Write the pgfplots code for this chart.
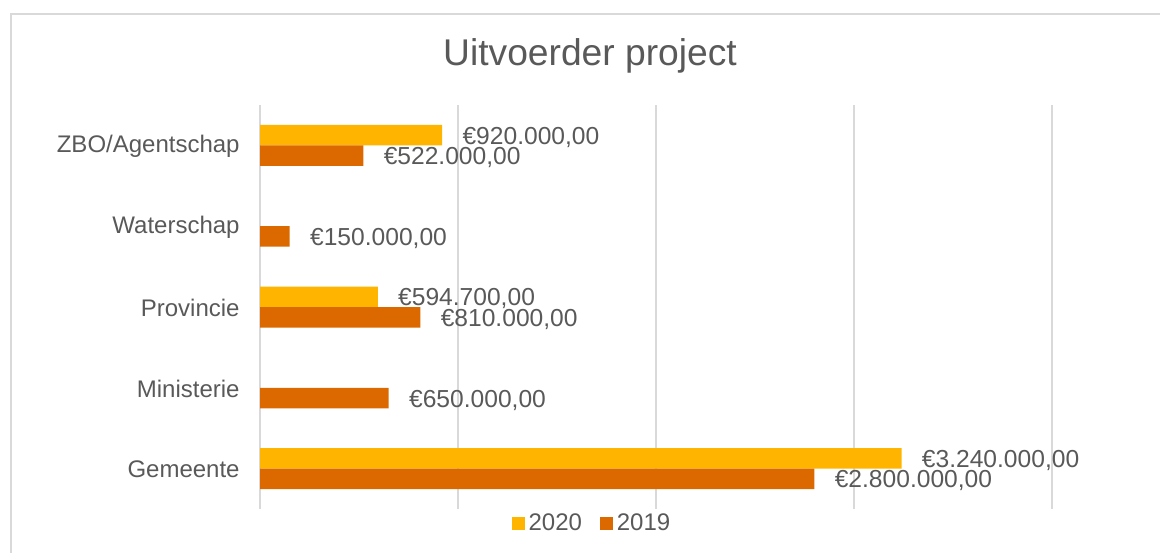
\documentclass[border=0pt]{standalone}
\usepackage{pgfplots}
\pgfplotsset{compat=1.18}
\usepackage{fontspec}
\setmainfont{Liberation Sans}
\definecolor{c2020}{HTML}{FFB500}
\definecolor{c2019}{HTML}{DB6900}
\definecolor{txt}{HTML}{595959}
\definecolor{gridc}{HTML}{D9D9D9}

\begin{document}
\begin{tikzpicture}
% page = 1160x552 px at 0.5pt per px
\useasboundingbox (0pt,0pt) rectangle (580pt,276pt);
\draw[gridc, line width=1pt] (5.25pt,-5pt) -- (5.25pt,268.75pt) -- (590pt,268.75pt);
\node[text=txt, font=\fontsize{18.6}{22}\selectfont] at (295pt,248pt) {Uitvoerder project};
\begin{axis}[
    at={(130pt,21.5pt)}, anchor=south west,
    scale only axis, width=396pt, height=202pt,
    xbar, bar width=10.25pt,
    xmin=0, xmax=4000000, ymin=-0.5, ymax=4.5,
    xtick={0,1000000,2000000,3000000,4000000}, xticklabels={},
    scaled x ticks=false,
    ytick={0,1,2,3,4},
    yticklabels={Gemeente,Ministerie,Provincie,Waterschap,ZBO/Agentschap},
    yticklabel style={font=\fontsize{12}{13}\selectfont, text=txt, inner sep=0pt, xshift=-10pt, yshift=-0.5pt},
    xmajorgrids, grid style={gridc, line width=0.75pt},
    axis line style={draw=none}, major tick length=0pt,
    clip=false,
    point meta=x,
    nodes near coords={€\pgfmathprintnumber{\pgfplotspointmeta}},
    every node near coord/.append style={font=\fontsize{12.3}{13}\selectfont, text=txt, anchor=west, inner sep=0pt, xshift=10pt, yshift=-1pt},
    /pgf/number format/.cd, fixed, fixed zerofill, precision=2, 1000 sep={.}, dec sep={,}, assume math mode=true,
    /pgfplots/.cd,
    legend columns=2,
    legend image code/.code={\fill[#1] (0pt,-3.2pt) rectangle (6.4pt,3.2pt);},
    legend style={at={(0.4205,-0.036)}, anchor=center, draw=none, fill=none,
      font=\fontsize{12}{13}\selectfont, text=txt, inner sep=0pt,
      /tikz/every even column/.append style={column sep=7pt}},
  ]
  \addplot[fill=c2020, draw=none, bar shift=5.125pt] coordinates {(3240000,0) (594700,2) (920000,4)};
  \addplot[fill=c2019, draw=none, bar shift=-5.125pt] coordinates {(2800000,0) (650000,1) (810000,2) (150000,3) (522000,4)};
  \legend{2020,2019}
\end{axis}
\end{tikzpicture}
\end{document}
